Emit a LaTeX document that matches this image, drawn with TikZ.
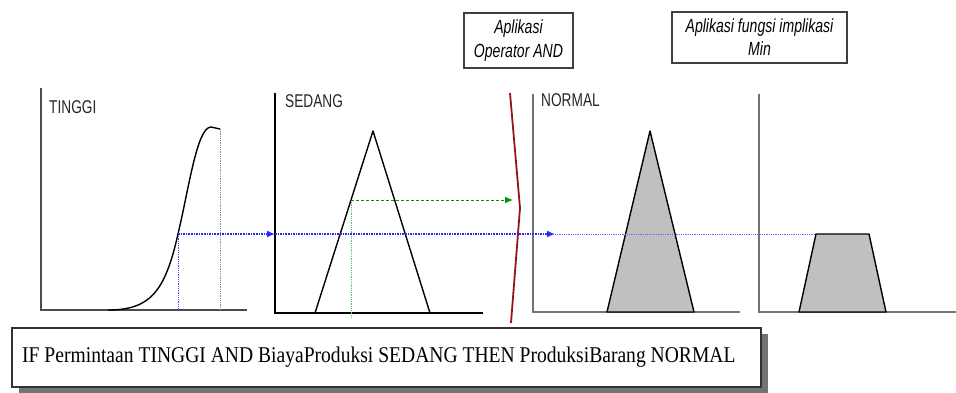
\documentclass[tikz,border=0pt]{standalone}
\usepackage{fontspec}
\usetikzlibrary{arrows.meta}
\setmainfont{Liberation Serif}
\newfontfamily\lblfont[FakeStretch=0.74]{Liberation Sans}
\newfontfamily\rulefont[FakeStretch=0.87]{Liberation Serif}
\definecolor{andred}{RGB}{150,20,25}
\definecolor{mfgray}{RGB}{192,192,192}
\definecolor{cutgreen}{RGB}{0,150,0}

\begin{document}
\begin{tikzpicture}[x=1pt,y=-1pt,
		axis/.style={line width=1.6pt},
		mf/.style={line width=1.4pt,draw=black,line join=round},
		level/.style={densely dotted,line width=1.6pt,draw=blue!85,-{Latex[length=8pt,width=7pt]}},
		guide/.style={densely dotted,line width=.8pt},
		lbl/.style={font=\lblfont\fontsize{18.5}{20}\selectfont,anchor=base west,inner sep=0pt,text=black!85},
		infobox/.style={draw=black!75,line width=1.5pt,align=center,inner sep=0pt,font=\lblfont\itshape\fontsize{19}{24}\selectfont}]
	\useasboundingbox (0,0) rectangle (956,393);

	% TINGGI
	\draw[axis,draw=black!70] (41,88) -- (41,310) -- (247,310);
	\node[lbl] (tinggi) at (49,114) {TINGGI};
	\draw[mf] (108,310) .. controls (150,310) and (165,292) .. (178,234) .. controls (189,188) and (197,127) .. (211,127) -- (220,129);
	\coordinate (t) at (178,234);
	\draw[guide,draw=black!45] (220,129) -- (220,310);
	\draw[guide,draw=blue!70] (t) -- (178,310);

	% SEDANG
	\draw[axis] (275,93) -- (275,313) -- (483,313);
	\node[lbl] (sedang) at (285,108) {SEDANG};
	\draw[mf] (315,313) -- (373,131) -- (430,313);
	\coordinate (s) at (351,200);
	\coordinate (sin) at (275,234);
	\draw[guide,draw=cutgreen!60] (s) -- (351,318);
	\draw[densely dashed,line width=1pt,draw=cutgreen,-{Latex[length=8pt,width=7pt]}] (s) -- (513,200);
	\draw[level] (t) -- (sin);

	% operator AND
	\draw[andred,line width=1.8pt] (510,93) -- (520,208) -- (511,323);
	\node[infobox,minimum width=109pt,minimum height=55pt] (opand) at (518.5,40.5) {Aplikasi\\Operator AND};

	% NORMAL
	\draw[axis,draw=black!55] (533,94) -- (533,312) -- (740,312);
	\node[lbl] (normal) at (541,107) {NORMAL};
	\draw[mf,fill=mfgray] (607,312) -- (650,131) -- (694,312) -- cycle;
	\coordinate (n) at (555,234);
	\draw[level] (sin) -- (n);

	% hasil min
	\draw[axis,draw=black!55] (759,94) -- (759,312) -- (956,312);
	\draw[mf,fill=mfgray] (799,312) -- (816,234) coordinate (m) -- (869,234) -- (886,312) -- cycle;
	\draw[densely dotted,line width=.8pt,draw=blue!60] (n) -- (m);
	\node[infobox,minimum width=175pt,minimum height=51pt,font=\lblfont\itshape\fontsize{19}{23}\selectfont] (impl) at (759.5,37.5) {Aplikasi fungsi implikasi\\Min};

	% aturan
	\fill[black!55] (19,334) rectangle (768,393);
	\node[draw=black!80,line width=1.2pt,fill=white,minimum width=749pt,minimum height=59pt,inner sep=0pt] (rulebox) at (386.5,357.5) {};
	\node[anchor=base west,inner sep=0pt,font=\rulefont\fontsize{22.5}{27}\selectfont] (rule) at (22,362) {IF Permintaan TINGGI AND BiayaProduksi SEDANG THEN ProduksiBarang NORMAL};
\end{tikzpicture}
\end{document}
